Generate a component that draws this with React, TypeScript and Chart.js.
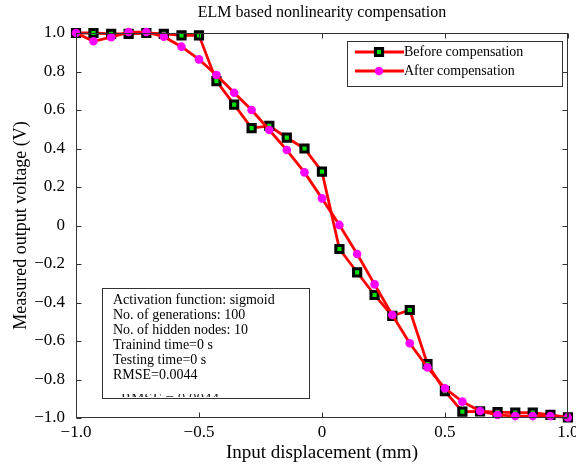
import React, { useEffect, useRef } from "react";
import { Chart, registerables } from "chart.js";

Chart.register(...registerables);

const FONT = "'Liberation Serif', 'Times New Roman', serif";

const chartTitle = "ELM based nonlinearity compensation";
const xAxisTitle = "Input displacement (mm)";
const yAxisTitle = "Measured output voltage (V)";

const xValues = [
  -1.0, -0.929, -0.857, -0.786, -0.714, -0.643, -0.571, -0.5, -0.429, -0.357,
  -0.286, -0.214, -0.143, -0.071, 0.0, 0.071, 0.143, 0.214, 0.286, 0.357,
  0.429, 0.5, 0.571, 0.643, 0.714, 0.786, 0.857, 0.929, 1.0,
];

const beforeComp = [
  1.0, 1.0, 0.995, 0.995, 1.0, 0.995, 0.988, 0.988, 0.75, 0.628,
  0.506, 0.517, 0.456, 0.4, 0.28, -0.122, -0.243, -0.361, -0.47, -0.439,
  -0.72, -0.86, -0.967, -0.966, -0.97, -0.972, -0.972, -0.984, -0.997,
];

const afterComp = [
  1.0, 0.957, 0.978, 1.005, 1.005, 0.981, 0.929, 0.863, 0.782, 0.69,
  0.6, 0.496, 0.392, 0.276, 0.141, 0.003, -0.148, -0.306, -0.465, -0.612,
  -0.737, -0.846, -0.915, -0.964, -0.984, -0.99, -0.99, -0.99, -0.997,
];

const xTicks = [-1.0, -0.5, 0, 0.5, 1.0];
const yTicks = [-1.0, -0.8, -0.6, -0.4, -0.2, 0, 0.2, 0.4, 0.6, 0.8, 1.0];

const legendLabels = ["Before compensation", "After compensation"];

const infoLines = [
  "Activation function: sigmoid",
  "No. of generations: 100",
  "No. of hidden nodes: 10",
  "Trainind time=0 s",
  "Testing time=0 s",
  "RMSE=0.0044",
];
const ghostLine = "RMSE = 0.0044";

const fmt = (v: number) =>
  Math.abs(v) < 1e-9 ? "0" : (v < 0 ? "\u2212" : "") + Math.abs(v).toFixed(1);

const RED = "#ff0000";
const GREEN = "#00e000";
const MAGENTA = "#ff00ff";
const BOX = "#333333";

function drawSquare(ctx: CanvasRenderingContext2D, x: number, y: number) {
  ctx.save();
  ctx.fillStyle = GREEN;
  ctx.strokeStyle = "#000";
  ctx.lineWidth = 3;
  ctx.beginPath();
  ctx.rect(x - 3.6, y - 3.6, 7.2, 7.2);
  ctx.fill();
  ctx.stroke();
  ctx.restore();
}

function drawDot(ctx: CanvasRenderingContext2D, x: number, y: number) {
  ctx.save();
  ctx.fillStyle = MAGENTA;
  ctx.beginPath();
  ctx.arc(x, y, 4.3, 0, Math.PI * 2);
  ctx.fill();
  ctx.restore();
}

const decorPlugin = {
  id: "decor",
  afterDraw(chart: any) {
    const { ctx, chartArea: a, scales } = chart;
    ctx.save();
    const L = Math.round(a.left) + 0.5;
    const R = Math.round(a.right) - 0.5;
    const T = Math.round(a.top) + 0.5;
    const B = Math.round(a.bottom) - 0.5;

    // plot box
    ctx.strokeStyle = BOX;
    ctx.lineWidth = 1;
    ctx.strokeRect(L, T, R - L, B - T);

    // inward ticks
    const tl = 5;
    ctx.beginPath();
    for (const t of scales.x.ticks) {
      const px = Math.round(scales.x.getPixelForValue(t.value)) + 0.5;
      ctx.moveTo(px, B);
      ctx.lineTo(px, B - tl);
      ctx.moveTo(px, T);
      ctx.lineTo(px, T + tl);
    }
    for (const t of scales.y.ticks) {
      const py = Math.round(scales.y.getPixelForValue(t.value)) + 0.5;
      ctx.moveTo(L, py);
      ctx.lineTo(L + tl, py);
      ctx.moveTo(R, py);
      ctx.lineTo(R - tl, py);
    }
    ctx.stroke();

    // title
    ctx.fillStyle = "#000";
    ctx.font = `16px ${FONT}`;
    ctx.textAlign = "center";
    ctx.textBaseline = "middle";
    ctx.fillText(chartTitle, (a.left + a.right) / 2, 13);

    // legend box
    const lx = 347, ly = 41, lw = 215, lh = 45;
    ctx.fillStyle = "#fff";
    ctx.fillRect(lx, ly, lw, lh);
    ctx.strokeStyle = BOX;
    ctx.lineWidth = 1;
    ctx.strokeRect(lx + 0.5, ly + 0.5, lw, lh);
    const rows = [52, 71];
    legendLabels.forEach((label, i) => {
      const y = rows[i];
      ctx.strokeStyle = RED;
      ctx.lineWidth = 2.8;
      ctx.beginPath();
      ctx.moveTo(355, y);
      ctx.lineTo(404, y);
      ctx.stroke();
      if (i === 0) drawSquare(ctx, 379, y);
      else drawDot(ctx, 379, y);
      ctx.fillStyle = "#000";
      ctx.font = `14px ${FONT}`;
      ctx.textAlign = "left";
      ctx.textBaseline = "middle";
      ctx.fillText(label, 404, y);
    });

    // info box
    const bx = 102, by = 288, bw = 207, bh = 110;
    ctx.fillStyle = "#fff";
    ctx.fillRect(bx, by, bw, bh);
    ctx.strokeStyle = BOX;
    ctx.lineWidth = 1;
    ctx.strokeRect(bx + 0.5, by + 0.5, bw, bh);
    ctx.fillStyle = "#000";
    ctx.font = `14px ${FONT}`;
    ctx.textAlign = "left";
    ctx.textBaseline = "middle";
    infoLines.forEach((line, i) => {
      ctx.fillText(line, 113, 300 + i * 15);
    });
    // faint clipped ghost line near the bottom of the box
    ctx.save();
    ctx.beginPath();
    ctx.rect(bx + 2, 394, bw - 4, 3);
    ctx.clip();
    ctx.font = `15px ${FONT}`;
    ctx.textBaseline = "top";
    ctx.fillStyle = "#222";
    ctx.fillText(ghostLine, 121, 392);
    ctx.restore();

    ctx.restore();
  },
};

export default function App() {
  const ref = useRef<HTMLCanvasElement | null>(null);

  useEffect(() => {
    if (!ref.current) return;
    const chart = new Chart(ref.current, {
      type: "line",
      data: {
        datasets: [
          {
            label: legendLabels[0],
            data: xValues.map((x, i) => ({ x, y: beforeComp[i] })),
            borderColor: RED,
            borderWidth: 2.8,
            pointStyle: "rect",
            pointRadius: 5.1,
            pointBackgroundColor: GREEN,
            pointBorderColor: "#000",
            pointBorderWidth: 3,
            tension: 0,
            clip: false,
            order: 2,
          } as any,
          {
            label: legendLabels[1],
            data: xValues.map((x, i) => ({ x, y: afterComp[i] })),
            borderColor: RED,
            borderWidth: 2.8,
            pointStyle: "circle",
            pointRadius: 4.3,
            pointBackgroundColor: MAGENTA,
            pointBorderColor: MAGENTA,
            pointBorderWidth: 0,
            tension: 0,
            clip: false,
            order: 1,
          } as any,
        ],
      },
      options: {
        animation: false,
        responsive: false,
        devicePixelRatio: 1,
        layout: { padding: { top: 33, right: 8, bottom: 0, left: 0 } },
        plugins: {
          legend: { display: false },
          tooltip: { enabled: false },
          title: { display: false },
        },
        scales: {
          x: {
            type: "linear",
            min: -1,
            max: 1,
            afterBuildTicks: (s: any) => {
              s.ticks = xTicks.map((v) => ({ value: v }));
            },
            afterFit: (s: any) => {
              s.height = 47;
              s.paddingLeft = 0;
              s.paddingRight = 0;
            },
            grid: { display: false, drawTicks: false },
            border: { display: false },
            ticks: {
              color: "#000",
              font: { family: FONT, size: 17 },
              padding: 4,
              maxRotation: 0,
              autoSkip: false,
              callback: (v: any) => fmt(Number(v)),
            },
            title: {
              display: true,
              text: xAxisTitle,
              color: "#000",
              font: { family: FONT, size: 19 },
              padding: { top: 0, bottom: 1 },
            },
          },
          y: {
            type: "linear",
            min: -1,
            max: 1,
            afterBuildTicks: (s: any) => {
              s.ticks = yTicks.map((v) => ({ value: v }));
            },
            afterFit: (s: any) => {
              s.width = 76;
              s.paddingTop = 0;
              s.paddingBottom = 0;
            },
            grid: { display: false, drawTicks: false },
            border: { display: false },
            ticks: {
              color: "#000",
              font: { family: FONT, size: 17 },
              padding: 11,
              autoSkip: false,
              callback: (v: any) => fmt(Number(v)),
            },
            title: {
              display: true,
              text: yAxisTitle,
              color: "#000",
              font: { family: FONT, size: 18 },
              padding: { top: 10, bottom: 0 },
            },
          },
        },
      },
      plugins: [decorPlugin],
    });
    return () => chart.destroy();
  }, []);

  return (
    <div style={{ position: "fixed", left: 0, top: 0, width: 576, height: 465, background: "#fff" }}>
      <canvas ref={ref} width={576} height={465} style={{ display: "block" }} />
    </div>
  );
}
